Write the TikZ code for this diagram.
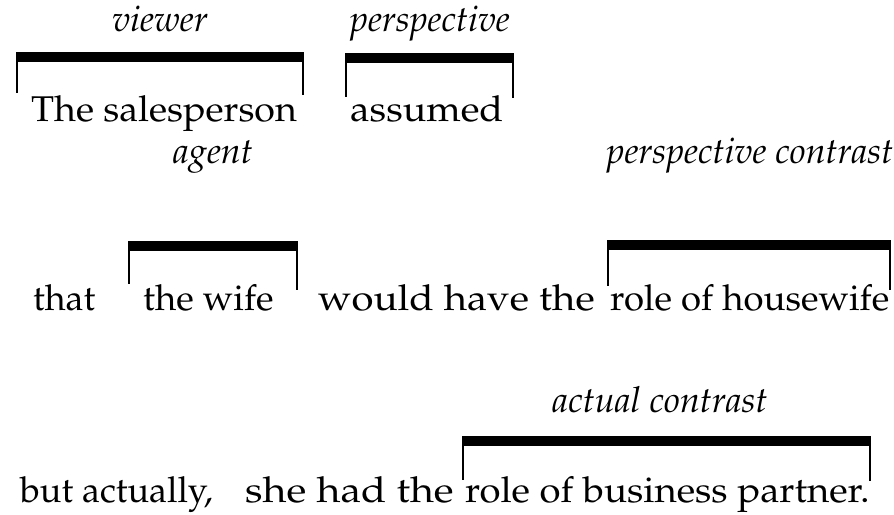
\documentclass[tikz,border=0pt]{standalone}
\usepackage[T1]{fontenc}
\usepackage{mathpazo}
\newcommand\wide[2]{\scalebox{#1}[1]{#2}}
\begin{document}
\begin{tikzpicture}[x=1pt,y=1pt,
  word/.style={anchor=base west,inner sep=0pt,font=\fontsize{35.8}{40}\selectfont},
  role/.style={anchor=base,inner sep=0pt,font=\fontsize{35.8}{40}\selectfont\itshape},
  bar/.style={fill=black},
  leg/.style={line width=2.4pt}]
\useasboundingbox (0,0) rectangle (894,-514);

% a role bracket: thick bar with thin legs at both ends
% #1 left x, #2 right x, #3 bar top y, #4 left leg end y, #5 right leg end y
\newcommand\spanbrk[5]{%
  \coordinate (bl) at (#1,-#3);
  \coordinate (br) at (#2,-#3);
  \fill[bar] (bl) rectangle ([yshift=-10pt]br);
  \draw[leg] ([shift={(1.2,-5)}]bl) -- (#1+1.2,-#4);
  \draw[leg] ([shift={(-1.2,-5)}]br) -- (#2-1.2,-#5);
}

% first line
\node[role] (viewer) at (160,-31) {viewer};
\spanbrk{16}{304}{52}{93}{95}
\node[word] (sales) at (31,-121) {\wide{1.05}{The salesperson}};

\node[role] (persp) at (430,-31) {perspective};
\spanbrk{345}{514}{53}{97}{98}
\node[word] (assumed) at (350,-121) {\wide{1.09}{assumed}};

% second line
\node[role] (agent) at (213,-163) {agent};
\spanbrk{128}{298}{241}{284}{290}
\node[word] (that) at (33,-310) {that};
\node[word] (wife) at (143,-310) {\wide{1.02}{the wife}};
\node[word] (would) at (318,-310) {\wide{1.12}{would have the}};

\node[role] (pcontr) at (750,-163) {perspective contrast};
\spanbrk{607}{891}{240}{286}{290}
\node[word] (house) at (610,-310) {\wide{1.02}{role of housewife}};

% third line
\node[role] (acontr) at (660,-412) {actual contrast};
\spanbrk{462}{871}{436}{480}{481}
\node[word] (but) at (20,-502) {but actually,};
\node[word] (she) at (245,-502) {\wide{1.15}{she had the}};
\node[word] (partner) at (465,-502) {\wide{1.07}{role of business partner.}};
\end{tikzpicture}
\end{document}
